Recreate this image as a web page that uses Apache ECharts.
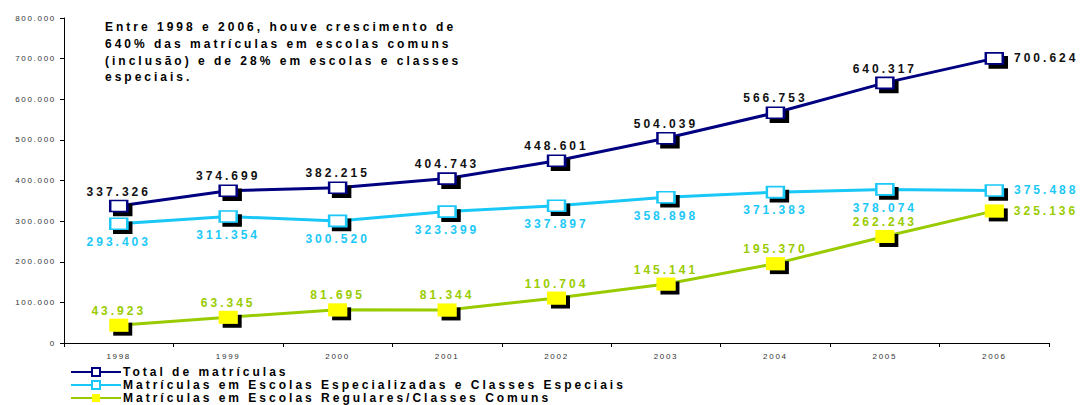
<!DOCTYPE html>
<html>
<head>
<meta charset="utf-8">
<script src="https://cdn.jsdelivr.net/npm/echarts@6/dist/echarts.min.js"></script>
<style>
    html, body { margin: 0; padding: 0; background: #fff; }
    #chart { width: 1080px; height: 405px; }
    /* o gráfico original tem o texto todo espaçado */
    #chart text { letter-spacing: 3px; }
    #chart text[style*=" 8px"] { letter-spacing: 1.7px; }
</style>
</head>
<body>
<div id="chart"></div>
<script>
let anos = ['1998', '1999', '2000', '2001', '2002', '2003', '2004', '2005', '2006'];
let total = [337326, 374699, 382215, 404743, 448601, 504039, 566753, 640317, 700624];
let especiais = [293403, 311354, 300520, 323399, 337897, 358898, 371383, 378074, 375488];
let comuns = [43923, 63345, 81695, 81344, 110704, 145141, 195370, 262243, 325136];
let nomes = [
    'Total de matrículas',
    'Matrículas em Escolas Especializadas e Classes Especiais',
    'Matrículas em Escolas Regulares/Classes Comuns'
];
let nota = 'Entre 1998 e 2006, houve crescimento de\n640% das matrículas em escolas comuns\n(inclusão) e de 28% em escolas e classes\nespeciais.';

let fonte = '"Liberation Sans", Arial, sans-serif';

// 337326 -> "337.326"
function milhar(v) {
    let s = String(Math.round(v));
    return s.replace(/\B(?=(\d{3})+(?!\d))/g, '.');
}

let sombra = {
    shadowColor: '#000',
    shadowBlur: 0,
    shadowOffsetX: 4,
    shadowOffsetY: 4
};

// rótulos: o último ponto fica à direita
let rotulos = function(arr, pos, dist) {
    return arr.map(function(v, i) {
        if (i === arr.length - 1) {
            return { value: v, label: { position: 'right', distance: 10 } };
        }
        return { value: v, label: { position: pos, distance: dist } };
    });
};

let option = {
    animation: false,
    textStyle: { fontFamily: fonte },
    grid: {
        left: 64,
        right: 31,
        top: 18,
        bottom: 62
    },
    legend: {
        orient: 'vertical',
        left: 70,
        top: 366,
        padding: 0,
        itemWidth: 50,
        itemHeight: 10,
        itemGap: 1,
        data: nomes,
        textStyle: {
            fontFamily: fonte,
            fontSize: 12,
            lineHeight: 12,
            fontWeight: 'bold',
            color: '#000',
            padding: [0, 0, 0, -3]
        },
        itemStyle: {
            shadowColor: 'rgba(0,0,0,0)',
            shadowOffsetX: 0,
            shadowOffsetY: 0
        }
    },
    graphic: [
        {
            type: 'text',
            left: 105,
            top: 19,
            style: {
                text: nota,
                font: 'bold 12px ' + fonte,
                lineHeight: 16.6,
                fill: '#000'
            }
        }
    ],
    xAxis: {
        type: 'category',
        data: anos,
        boundaryGap: true,
        axisLine: { lineStyle: { color: '#000', width: 1 } },
        axisTick: { show: true, length: 4, lineStyle: { color: '#000' } },
        axisLabel: {
            fontFamily: fonte,
            fontSize: 8,
            color: '#333',
            margin: 9
        },
        splitLine: { show: false }
    },
    yAxis: {
        type: 'value',
        min: 0,
        max: 800000,
        interval: 100000,
        axisLine: { show: true, lineStyle: { color: '#000', width: 1 } },
        axisTick: { show: true, length: 4, lineStyle: { color: '#000' } },
        axisLabel: {
            fontFamily: fonte,
            fontSize: 8,
            color: '#333',
            margin: 8,
            formatter: function(v) {
                return v === 0 ? '0' : milhar(v);
            }
        },
        splitLine: { show: false }
    },
    series: [
        {
            name: nomes[0],
            type: 'line',
            data: rotulos(total, 'top', 2),
            symbol: 'rect',
            symbolSize: [17, 11],
            showAllSymbol: true,
            lineStyle: { color: '#000080', width: 3 },
            itemStyle: Object.assign({
                color: '#fff',
                borderColor: '#000080',
                borderWidth: 2
            }, sombra),
            label: {
                show: true,
                fontFamily: fonte,
                fontSize: 12,
                fontWeight: 'bold',
                color: '#111',
                formatter: function(p) { return milhar(p.value); }
            },
            z: 4
        },
        {
            name: nomes[1],
            type: 'line',
            data: rotulos(especiais, 'bottom', 6),
            symbol: 'rect',
            symbolSize: [17, 11],
            showAllSymbol: true,
            lineStyle: { color: '#1ac8f7', width: 3 },
            itemStyle: Object.assign({
                color: '#fff',
                borderColor: '#1ac8f7',
                borderWidth: 2
            }, sombra),
            label: {
                show: true,
                fontFamily: fonte,
                fontSize: 12,
                fontWeight: 'bold',
                color: '#1ac8f7',
                formatter: function(p) { return milhar(p.value); }
            },
            z: 3
        },
        {
            name: nomes[2],
            type: 'line',
            data: rotulos(comuns, 'top', 2),
            symbol: 'rect',
            symbolSize: [19, 13],
            showAllSymbol: true,
            lineStyle: { color: '#99cc00', width: 3 },
            itemStyle: Object.assign({
                color: '#ffff00',
                borderWidth: 0
            }, sombra),
            label: {
                show: true,
                fontFamily: fonte,
                fontSize: 12,
                fontWeight: 'bold',
                color: '#99cc00',
                formatter: function(p) { return milhar(p.value); }
            },
            z: 2
        }
    ]
};

let chart = echarts.init(document.getElementById('chart'), null, { renderer: 'svg' });
chart.setOption(option);
</script>
</body>
</html>
